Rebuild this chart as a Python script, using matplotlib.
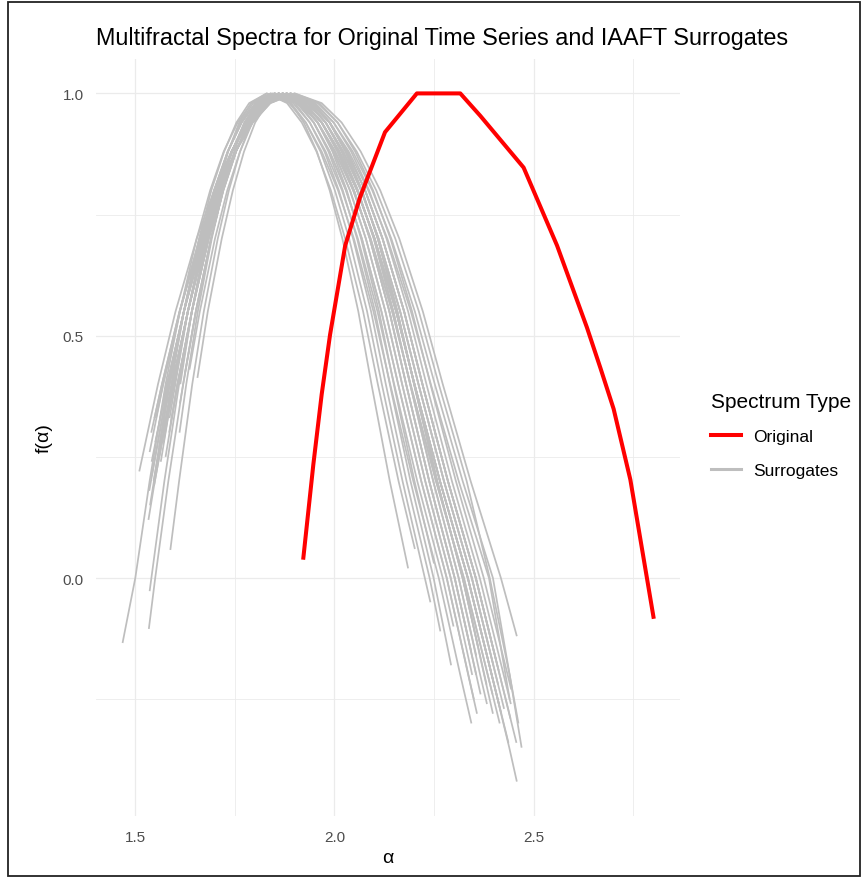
import matplotlib
matplotlib.use("Agg")
import matplotlib.pyplot as plt
from matplotlib.lines import Line2D
from matplotlib.patches import Rectangle

plt.rcParams['font.family'] = ['Liberation Sans', 'DejaVu Sans']

# original spectrum (alpha, f(alpha))
orig_alpha = [1.922, 1.947, 1.968, 1.989, 2.027, 2.064, 2.127, 2.207, 2.316, 2.366,
              2.475, 2.559, 2.634, 2.668, 2.701, 2.743, 2.776, 2.801]
orig_f = [0.042, 0.234, 0.379, 0.502, 0.686, 0.785, 0.920, 1.0, 1.0, 0.954,
          0.847, 0.686, 0.517, 0.433, 0.349, 0.203, 0.042, -0.08]

# IAAFT surrogate spectra, one list per surrogate
surr_alpha = [
    [1.611, 1.628, 1.657, 1.692, 1.720, 1.748, 1.776, 1.806, 1.845, 1.890, 1.923, 1.956, 1.988, 2.020, 2.060, 2.093, 2.139, 2.185],
    [1.468, 1.50, 1.536, 1.576, 1.612, 1.654, 1.688, 1.722, 1.757, 1.792, 1.84, 1.896, 1.938, 1.978, 2.019, 2.059, 2.108, 2.150, 2.208, 2.272, 2.299],
    [1.536, 1.573, 1.610, 1.642, 1.680, 1.711, 1.743, 1.774, 1.806, 1.85, 1.906, 1.948, 1.988, 2.029, 2.069, 2.118, 2.160, 2.218, 2.282, 2.336, 2.358],
    [1.534, 1.55, 1.583, 1.620, 1.652, 1.690, 1.721, 1.753, 1.784, 1.816, 1.86, 1.916, 1.958, 1.998, 2.039, 2.079, 2.128, 2.170, 2.228, 2.292, 2.346],
    [1.588, 1.61, 1.643, 1.672, 1.707, 1.735, 1.763, 1.791, 1.821, 1.86, 1.922, 1.968, 2.012, 2.057, 2.101, 2.155, 2.201, 2.265, 2.335, 2.395, 2.437],
    [1.656, 1.682, 1.717, 1.745, 1.773, 1.801, 1.831, 1.87, 1.932, 1.978, 2.022, 2.067, 2.111, 2.165, 2.211, 2.275, 2.345, 2.399],
    [1.586, 1.632, 1.674, 1.708, 1.742, 1.777, 1.812, 1.86, 1.922, 1.968, 2.012, 2.057, 2.101, 2.155, 2.201, 2.265, 2.335, 2.395, 2.439, 2.458],
    [1.576, 1.606, 1.642, 1.684, 1.718, 1.752, 1.787, 1.822, 1.87, 1.921, 1.958, 1.995, 2.031, 2.067, 2.112, 2.149, 2.201, 2.25],
    [1.546, 1.586, 1.622, 1.664, 1.698, 1.732, 1.767, 1.802, 1.85, 1.901, 1.938, 1.975, 2.011, 2.047, 2.092, 2.129, 2.181, 2.239, 2.266],
    [1.570, 1.593, 1.632, 1.677, 1.715, 1.752, 1.789, 1.828, 1.88, 1.936, 1.978, 2.018, 2.059, 2.099, 2.148, 2.190, 2.248, 2.312, 2.366, 2.383],
    [1.550, 1.58, 1.622, 1.671, 1.711, 1.752, 1.792, 1.834, 1.89, 1.946, 1.988, 2.028, 2.069, 2.109, 2.158, 2.20, 2.258, 2.322, 2.382],
    [1.613, 1.642, 1.677, 1.705, 1.733, 1.761, 1.791, 1.83, 1.881, 1.918, 1.955, 1.991, 2.027, 2.072, 2.109, 2.161, 2.202],
    [1.535, 1.583, 1.622, 1.667, 1.705, 1.742, 1.779, 1.818, 1.87, 1.932, 1.978, 2.022, 2.067, 2.111, 2.165, 2.211, 2.275, 2.345, 2.405, 2.426],
    [1.624, 1.652, 1.69, 1.721, 1.753, 1.784, 1.816, 1.86, 1.922, 1.968, 2.012, 2.057, 2.101, 2.155, 2.201, 2.265, 2.335, 2.398],
    [1.510, 1.557, 1.601, 1.654, 1.698, 1.741, 1.785, 1.829, 1.89, 1.946, 1.988, 2.028, 2.069, 2.109, 2.158, 2.20, 2.258, 2.322, 2.376, 2.398],
    [1.586, 1.632, 1.67, 1.701, 1.733, 1.764, 1.796, 1.84, 1.891, 1.928, 1.965, 2.001, 2.037, 2.082, 2.119, 2.171, 2.241],
    [1.536, 1.57, 1.612, 1.661, 1.701, 1.742, 1.782, 1.824, 1.88, 1.942, 1.988, 2.032, 2.077, 2.121, 2.175, 2.221, 2.285, 2.355, 2.415, 2.457],
    [1.602, 1.642, 1.684, 1.718, 1.752, 1.787, 1.822, 1.87, 1.926, 1.968, 2.008, 2.049, 2.089, 2.138, 2.18, 2.238, 2.302, 2.343],
    [1.537, 1.586, 1.622, 1.664, 1.698, 1.732, 1.767, 1.802, 1.85, 1.906, 1.948, 1.988, 2.029, 2.069, 2.118, 2.16, 2.218, 2.282, 2.35],
    [1.608, 1.632, 1.674, 1.708, 1.742, 1.777, 1.812, 1.86, 1.916, 1.958, 1.998, 2.039, 2.079, 2.128, 2.17, 2.228, 2.292, 2.314],
    [1.540, 1.567, 1.611, 1.664, 1.708, 1.751, 1.795, 1.839, 1.90, 1.962, 2.008, 2.052, 2.097, 2.141, 2.195, 2.241, 2.305, 2.375, 2.444],
    [1.564, 1.596, 1.632, 1.674, 1.708, 1.742, 1.777, 1.812, 1.86, 1.911, 1.948, 1.985, 2.021, 2.057, 2.102, 2.139, 2.191, 2.249, 2.293],
    [1.582, 1.622, 1.66, 1.691, 1.723, 1.754, 1.786, 1.83, 1.886, 1.928, 1.968, 2.009, 2.049, 2.098, 2.14, 2.198, 2.262, 2.316, 2.344],
    [1.547, 1.593, 1.632, 1.677, 1.715, 1.752, 1.789, 1.828, 1.88, 1.942, 1.988, 2.032, 2.077, 2.121, 2.175, 2.221, 2.285, 2.355, 2.415, 2.442],
    [1.589, 1.606, 1.642, 1.684, 1.718, 1.752, 1.787, 1.822, 1.87, 1.926, 1.968, 2.008, 2.049, 2.089, 2.138, 2.18, 2.238, 2.302, 2.356],
    [1.58, 1.622, 1.671, 1.711, 1.752, 1.792, 1.834, 1.89, 1.952, 1.998, 2.042, 2.087, 2.131, 2.185, 2.231, 2.295, 2.365, 2.425, 2.443],
    [1.560, 1.586, 1.622, 1.664, 1.698, 1.732, 1.767, 1.802, 1.85, 1.912, 1.958, 2.002, 2.047, 2.091, 2.145, 2.191, 2.255, 2.325, 2.397],
    [1.533, 1.549, 1.593, 1.632, 1.677, 1.715, 1.752, 1.789, 1.828, 1.88, 1.936, 1.978, 2.018, 2.059, 2.099, 2.148, 2.19, 2.248, 2.312, 2.356],
    [1.548, 1.567, 1.611, 1.664, 1.708, 1.751, 1.795, 1.839, 1.90, 1.968, 2.018, 2.066, 2.115, 2.163, 2.222, 2.272, 2.342, 2.418, 2.458],
    [1.541, 1.58, 1.622, 1.671, 1.711, 1.752, 1.792, 1.834, 1.89, 1.958, 2.008, 2.056, 2.105, 2.153, 2.212, 2.262, 2.332, 2.39, 2.44, 2.47],
    [1.585, 1.606, 1.642, 1.684, 1.718, 1.752, 1.787, 1.822, 1.87, 1.932, 1.978, 2.022, 2.067, 2.111, 2.165, 2.211, 2.275, 2.345, 2.411],
    [1.612, 1.652, 1.69, 1.721, 1.753, 1.784, 1.816, 1.86, 1.922, 1.968, 2.012, 2.057, 2.101, 2.155, 2.201, 2.265, 2.335, 2.395, 2.413],
    [1.56, 1.593, 1.632, 1.677, 1.715, 1.752, 1.789, 1.828, 1.88, 1.942, 1.988, 2.032, 2.077, 2.121, 2.175, 2.221, 2.285, 2.355, 2.406],
    [1.61, 1.642, 1.68, 1.711, 1.743, 1.774, 1.806, 1.85, 1.912, 1.958, 2.002, 2.047, 2.091, 2.145, 2.191, 2.255, 2.325, 2.385, 2.415],
    [1.541, 1.583, 1.622, 1.667, 1.705, 1.742, 1.779, 1.818, 1.87, 1.926, 1.968, 2.008, 2.049, 2.089, 2.138, 2.18, 2.238, 2.302, 2.367],
    [1.552, 1.57, 1.612, 1.661, 1.701, 1.742, 1.782, 1.824, 1.88, 1.942, 1.988, 2.032, 2.077, 2.121, 2.175, 2.221, 2.285, 2.355, 2.412],
    [1.571, 1.596, 1.632, 1.674, 1.708, 1.742, 1.777, 1.812, 1.86, 1.922, 1.968, 2.012, 2.057, 2.101, 2.155, 2.201, 2.265, 2.335, 2.395, 2.419],
    [1.57, 1.622, 1.671, 1.711, 1.752, 1.792, 1.834, 1.89, 1.946, 1.988, 2.028, 2.069, 2.109, 2.158, 2.20, 2.258, 2.322, 2.36],
    [1.636, 1.662, 1.70, 1.731, 1.763, 1.794, 1.826, 1.87, 1.938, 1.988, 2.036, 2.085, 2.133, 2.192, 2.242, 2.312, 2.388, 2.44],
    [1.573, 1.593, 1.632, 1.677, 1.715, 1.752, 1.789, 1.828, 1.88, 1.948, 1.998, 2.046, 2.095, 2.143, 2.202, 2.252, 2.322, 2.398, 2.44, 2.462],
]
surr_f = [
    [0.30, 0.4, 0.55, 0.7, 0.8, 0.88, 0.94, 0.98, 1, 0.98, 0.94, 0.88, 0.8, 0.7, 0.55, 0.4, 0.2, 0.02],
    [-0.134, 0, 0.2, 0.4, 0.55, 0.7, 0.8, 0.88, 0.94, 0.98, 1, 0.98, 0.94, 0.88, 0.8, 0.7, 0.55, 0.4, 0.2, 0, -0.1],
    [-0.027, 0.2, 0.4, 0.55, 0.7, 0.8, 0.88, 0.94, 0.98, 1, 0.98, 0.94, 0.88, 0.8, 0.7, 0.55, 0.4, 0.2, 0, -0.2, -0.28],
    [-0.105, 0, 0.2, 0.4, 0.55, 0.7, 0.8, 0.88, 0.94, 0.98, 1, 0.98, 0.94, 0.88, 0.8, 0.7, 0.55, 0.4, 0.2, 0, -0.2],
    [0.058, 0.2, 0.4, 0.55, 0.7, 0.8, 0.88, 0.94, 0.98, 1, 0.98, 0.94, 0.88, 0.8, 0.7, 0.55, 0.4, 0.2, 0, -0.2, -0.34],
    [0.413, 0.55, 0.7, 0.8, 0.88, 0.94, 0.98, 1, 0.98, 0.94, 0.88, 0.8, 0.7, 0.55, 0.4, 0.2, 0, -0.18],
    [0.35, 0.55, 0.7, 0.8, 0.88, 0.94, 0.98, 1, 0.98, 0.94, 0.88, 0.8, 0.7, 0.55, 0.4, 0.2, 0, -0.2, -0.35, -0.42],
    [0.25, 0.4, 0.55, 0.7, 0.8, 0.88, 0.94, 0.98, 1, 0.98, 0.94, 0.88, 0.8, 0.7, 0.55, 0.4, 0.2, 0.03],
    [0.2, 0.4, 0.55, 0.7, 0.8, 0.88, 0.94, 0.98, 1, 0.98, 0.94, 0.88, 0.8, 0.7, 0.55, 0.4, 0.2, 0, -0.11],
    [0.3, 0.4, 0.55, 0.7, 0.8, 0.88, 0.94, 0.98, 1, 0.98, 0.94, 0.88, 0.8, 0.7, 0.55, 0.4, 0.2, 0, -0.2, -0.26],
    [0.28, 0.4, 0.55, 0.7, 0.8, 0.88, 0.94, 0.98, 1, 0.98, 0.94, 0.88, 0.8, 0.7, 0.55, 0.4, 0.2, 0, -0.22],
    [0.4, 0.55, 0.7, 0.8, 0.88, 0.94, 0.98, 1, 0.98, 0.94, 0.88, 0.8, 0.7, 0.55, 0.4, 0.2, 0.06],
    [0.18, 0.4, 0.55, 0.7, 0.8, 0.88, 0.94, 0.98, 1, 0.98, 0.94, 0.88, 0.8, 0.7, 0.55, 0.4, 0.2, 0, -0.2, -0.27],
    [0.42, 0.55, 0.7, 0.8, 0.88, 0.94, 0.98, 1, 0.98, 0.94, 0.88, 0.8, 0.7, 0.55, 0.4, 0.2, 0, -0.21],
    [0.22, 0.4, 0.55, 0.7, 0.8, 0.88, 0.94, 0.98, 1, 0.98, 0.94, 0.88, 0.8, 0.7, 0.55, 0.4, 0.2, 0, -0.2, -0.28],
    [0.33, 0.55, 0.7, 0.8, 0.88, 0.94, 0.98, 1, 0.98, 0.94, 0.88, 0.8, 0.7, 0.55, 0.4, 0.2, -0.05],
    [0.26, 0.4, 0.55, 0.7, 0.8, 0.88, 0.94, 0.98, 1, 0.98, 0.94, 0.88, 0.8, 0.7, 0.55, 0.4, 0.2, 0, -0.2, -0.34],
    [0.38, 0.55, 0.7, 0.8, 0.88, 0.94, 0.98, 1, 0.98, 0.94, 0.88, 0.8, 0.7, 0.55, 0.4, 0.2, 0, -0.15],
    [0.15, 0.4, 0.55, 0.7, 0.8, 0.88, 0.94, 0.98, 1, 0.98, 0.94, 0.88, 0.8, 0.7, 0.55, 0.4, 0.2, 0, -0.25],
    [0.45, 0.55, 0.7, 0.8, 0.88, 0.94, 0.98, 1, 0.98, 0.94, 0.88, 0.8, 0.7, 0.55, 0.4, 0.2, 0, -0.08],
    [0.3, 0.4, 0.55, 0.7, 0.8, 0.88, 0.94, 0.98, 1, 0.98, 0.94, 0.88, 0.8, 0.7, 0.55, 0.4, 0.2, 0, -0.23],
    [0.24, 0.4, 0.55, 0.7, 0.8, 0.88, 0.94, 0.98, 1, 0.98, 0.94, 0.88, 0.8, 0.7, 0.55, 0.4, 0.2, 0, -0.18],
    [0.36, 0.55, 0.7, 0.8, 0.88, 0.94, 0.98, 1, 0.98, 0.94, 0.88, 0.8, 0.7, 0.55, 0.4, 0.2, 0, -0.2, -0.3],
    [0.19, 0.4, 0.55, 0.7, 0.8, 0.88, 0.94, 0.98, 1, 0.98, 0.94, 0.88, 0.8, 0.7, 0.55, 0.4, 0.2, 0, -0.2, -0.29],
    [0.32, 0.4, 0.55, 0.7, 0.8, 0.88, 0.94, 0.98, 1, 0.98, 0.94, 0.88, 0.8, 0.7, 0.55, 0.4, 0.2, 0, -0.2],
    [0.4, 0.55, 0.7, 0.8, 0.88, 0.94, 0.98, 1, 0.98, 0.94, 0.88, 0.8, 0.7, 0.55, 0.4, 0.2, 0, -0.2, -0.26],
    [0.27, 0.4, 0.55, 0.7, 0.8, 0.88, 0.94, 0.98, 1, 0.98, 0.94, 0.88, 0.8, 0.7, 0.55, 0.4, 0.2, 0, -0.24],
    [0.12, 0.2, 0.4, 0.55, 0.7, 0.8, 0.88, 0.94, 0.98, 1, 0.98, 0.94, 0.88, 0.8, 0.7, 0.55, 0.4, 0.2, 0, -0.16],
    [0.33, 0.4, 0.55, 0.7, 0.8, 0.88, 0.94, 0.98, 1, 0.98, 0.94, 0.88, 0.8, 0.7, 0.55, 0.4, 0.2, 0, -0.12],
    [0.24, 0.4, 0.55, 0.7, 0.8, 0.88, 0.94, 0.98, 1, 0.98, 0.94, 0.88, 0.8, 0.7, 0.55, 0.4, 0.2, 0, -0.2, -0.35],
    [0.3, 0.4, 0.55, 0.7, 0.8, 0.88, 0.94, 0.98, 1, 0.98, 0.94, 0.88, 0.8, 0.7, 0.55, 0.4, 0.2, 0, -0.22],
    [0.36, 0.55, 0.7, 0.8, 0.88, 0.94, 0.98, 1, 0.98, 0.94, 0.88, 0.8, 0.7, 0.55, 0.4, 0.2, 0, -0.2, -0.26],
    [0.25, 0.4, 0.55, 0.7, 0.8, 0.88, 0.94, 0.98, 1, 0.98, 0.94, 0.88, 0.8, 0.7, 0.55, 0.4, 0.2, 0, -0.17],
    [0.4, 0.55, 0.7, 0.8, 0.88, 0.94, 0.98, 1, 0.98, 0.94, 0.88, 0.8, 0.7, 0.55, 0.4, 0.2, 0, -0.2, -0.3],
    [0.21, 0.4, 0.55, 0.7, 0.8, 0.88, 0.94, 0.98, 1, 0.98, 0.94, 0.88, 0.8, 0.7, 0.55, 0.4, 0.2, 0, -0.24],
    [0.33, 0.4, 0.55, 0.7, 0.8, 0.88, 0.94, 0.98, 1, 0.98, 0.94, 0.88, 0.8, 0.7, 0.55, 0.4, 0.2, 0, -0.19],
    [0.28, 0.4, 0.55, 0.7, 0.8, 0.88, 0.94, 0.98, 1, 0.98, 0.94, 0.88, 0.8, 0.7, 0.55, 0.4, 0.2, 0, -0.2, -0.28],
    [0.36, 0.55, 0.7, 0.8, 0.88, 0.94, 0.98, 1, 0.98, 0.94, 0.88, 0.8, 0.7, 0.55, 0.4, 0.2, 0, -0.14],
    [0.43, 0.55, 0.7, 0.8, 0.88, 0.94, 0.98, 1, 0.98, 0.94, 0.88, 0.8, 0.7, 0.55, 0.4, 0.2, 0, -0.25],
    [0.31, 0.4, 0.55, 0.7, 0.8, 0.88, 0.94, 0.98, 1, 0.98, 0.94, 0.88, 0.8, 0.7, 0.55, 0.4, 0.2, 0, -0.2, -0.3],
]

x_ticks = [1.5, 2.0, 2.5]
x_minor = [1.75, 2.25, 2.75]
y_ticks = [0.0, 0.5, 1.0]
y_minor = [-0.25, 0.25, 0.75]

grey = '#BEBEBE'
red = '#FF0000'

fig = plt.figure(figsize=(8.63, 8.79), dpi=100)
ax = fig.add_axes([96/863, 1 - 817/879, (680 - 96)/863, (817 - 60)/879])

for a, f in zip(surr_alpha, surr_f):
    ax.plot(a, f, color=grey, lw=1.25, solid_joinstyle='round', solid_capstyle='butt')
ax.plot(orig_alpha, orig_f, color=red, lw=2.9, solid_joinstyle='round')

ax.margins(0.05)
ax.set_xticks(x_ticks)
ax.set_xticks(x_minor, minor=True)
ax.set_yticks(y_ticks)
ax.set_yticks(y_minor, minor=True)
ax.grid(which='major', color='#EBEBEB', lw=0.9)
ax.grid(which='minor', color='#EBEBEB', lw=0.6)
ax.set_axisbelow(True)
for s in ax.spines.values():
    s.set_visible(False)
ax.tick_params(which='both', length=0)
ax.tick_params(axis='x', labelsize=11, labelcolor='#4D4D4D', pad=10)
ax.tick_params(axis='y', labelsize=11, labelcolor='#4D4D4D', pad=9)

ax.set_xlabel('α', fontsize=14, labelpad=4)
ax.set_ylabel('f(α)', fontsize=14, labelpad=7)

fig.text(96/863, 1 - 45/879, 'Multifractal Spectra for Original Time Series and IAAFT Surrogates',
         fontsize=16.8, ha='left', va='baseline')

handles = [Line2D([], [], color=red, lw=2.9), Line2D([], [], color=grey, lw=2.2)]
fig.legend(handles, ['Original', 'Surrogates'], title='Spectrum Type',
           loc='upper left', bbox_to_anchor=(711/863, 1 - 393/879),
           frameon=False, fontsize=12.5, title_fontsize=15,
           handlelength=1.7, handletextpad=0.75, labelspacing=1.05,
           borderpad=0, borderaxespad=0, alignment='left')

# outer frame of the screenshot
fig.patches.append(Rectangle((8/863, 2/879), 852/863, 874/879, transform=fig.transFigure,
                             fill=False, edgecolor='#222222', lw=1.3))

fig.savefig('out.png', dpi=100)
